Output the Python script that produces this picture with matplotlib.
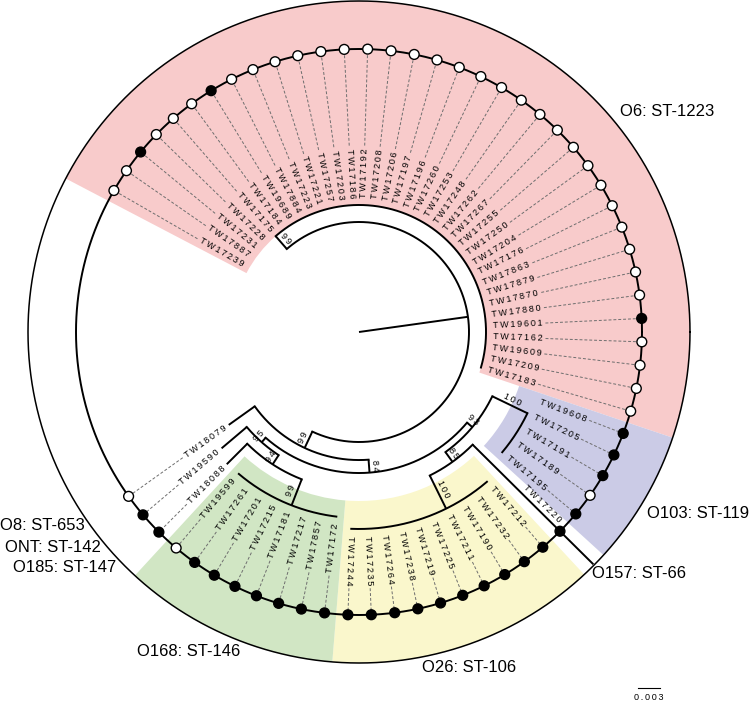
import numpy as np
import matplotlib.pyplot as plt
from matplotlib.patches import Wedge

plt.rcParams['font.family'] = ['Liberation Sans', 'DejaVu Sans']

# ---- data -----------------------------------------------------------------
# tips, clockwise from the upper left
o6_tips = ['TW17239', 'TW17887', 'TW17231', 'TW17228', 'TW17175', 'TW17184', 'TW19689',
           'TW17884', 'TW17223', 'TW17221', 'TW17257', 'TW17203', 'TW17186', 'TW17192',
           'TW17208', 'TW17206', 'TW17197', 'TW17196', 'TW17260', 'TW17253', 'TW17248',
           'TW17262', 'TW17267', 'TW17255', 'TW17250', 'TW17204', 'TW17176', 'TW17863',
           'TW17879', 'TW17870', 'TW17880', 'TW19601', 'TW17162', 'TW19609', 'TW17209',
           'TW17183']
o103_tips = ['TW19608', 'TW17205', 'TW17191', 'TW17189', 'TW17195']
o26_tips = ['TW17212', 'TW17232', 'TW17190', 'TW17211', 'TW17225', 'TW17219', 'TW17238',
            'TW17264', 'TW17235', 'TW17244']
o168_tips = ['TW17172', 'TW17857', 'TW17217', 'TW17181', 'TW17215', 'TW17201', 'TW17261',
             'TW19599']

# backbone: node, parent, distance from centre (subs/site), bootstrap
node_names = ['root', 'O6', 'rest', 'n84', 'n95', 'n94', 'O168', 'n93', 'O103', 'n85', 'O26']
node_parent = [None, 'root', 'root', 'rest', 'n84', 'n95', 'n94', 'n84', 'n93', 'n93', 'n85']
node_depth = [0.0150, 0.01732, 0.01746, 0.01923, 0.02005, 0.02155, 0.02536, 0.02018,
              0.02550, 0.02182, 0.02686]
node_support = [None, 99, 99, 84, 95, 94, 99, 93, 100, 85, 100]

# single tips on the backbone
single_tips = ['TW17220', 'TW18088', 'TW19590', 'TW18079']
single_parent = ['n85', 'n94', 'n95', 'rest']
single_depth = [0.0450, 0.0255, 0.02455, 0.02182]

filled_tips = ['TW17231', 'TW19689', 'TW19601',
               'TW19608', 'TW17205', 'TW17191', 'TW17195', 'TW17220'] + o26_tips + \
              ['TW17172', 'TW17857', 'TW17217', 'TW17181', 'TW17215', 'TW17201', 'TW17261',
               'TW18088', 'TW19590']

clade_tips = {'O6': o6_tips, 'O103': o103_tips, 'O26': o26_tips, 'O168': o168_tips}
clade_fill = {'O6': '#f8cbcb', 'O103': '#cbcbe6', 'O26': '#faf7cc', 'O168': '#d1e6c4'}

serotypes = ['O6: ST-1223', 'O103: ST-119', 'O157: ST-66', 'O26: ST-106', 'O168: ST-146',
             'O8: ST-653', 'ONT: ST-142', 'O185: ST-147']

# ---- layout ---------------------------------------------------------------
PX = 22 / 0.003          # pixels per subs/site (scale bar)
CX, CY = 359, 332        # tree centre, pixels from top left
ring_r, outer_r = 283, 331
node_anchor = {'O6': 'TW17175', 'O103': 'TW17205', 'O26': 'TW17211', 'O168': 'TW17181'}
arc_from_anchor = ['O6', 'O103']
FS_TIP = 6.5

tip_order = o6_tips + o103_tips + ['TW17220'] + o26_tips + o168_tips + \
            ['TW18088', 'TW19590', 'TW18079']
ang = dict(zip(tip_order, np.linspace(150, -144.5, len(tip_order))))
step = abs(ang[tip_order[1]] - ang[tip_order[0]])

parent = dict(zip(node_names, node_parent))
depth = {n: d * PX for n, d in zip(node_names, node_depth)}
children = {n: [] for n in node_names}
for n, p in zip(node_names, node_parent):
    if p:
        children[p].append(n)
for t, p, d in zip(single_tips, single_parent, single_depth):
    children[p].append(t)
    parent[t] = p
    depth[t] = d * PX
for c, tips in clade_tips.items():
    for t in tips:
        children[c].append(t)
        parent[t] = c
        depth[t] = depth[c] + 3


def place(n):
    if n not in children:
        return ang[n]
    a = [place(c) for c in children[n]]
    ang[n] = ang[node_anchor[n]] if n in node_anchor else (max(a) + min(a)) / 2
    return ang[n]


place('root')


def xy(r, a):
    t = np.radians(a)
    return r * np.cos(t), r * np.sin(t)


def upright(a):
    return -94.5 < a < 90.5


def spaced(s):
    return '\u2009'.join(s)


fig = plt.figure(figsize=(7.5, 7.03), dpi=100)
ax = fig.add_axes([0, 0, 1, 1])
ax.set_xlim(-CX, 750 - CX)
ax.set_ylim(-(703 - CY), CY)
ax.axis('off')
renderer = fig.canvas.get_renderer()

LW = 1.4

# highlighted clades
for c, tips in clade_tips.items():
    a = [ang[t] for t in tips]
    r0 = depth[c] if c == 'O6' else 169
    ax.add_patch(Wedge((0, 0), outer_r, min(a) - step / 2, max(a) + step / 2,
                       width=outer_r - r0, facecolor=clade_fill[c], edgecolor='none', zorder=0))

# outer circle and tip ring
t = np.linspace(0, 360, 721)
ax.plot(*xy(outer_r, t), color='black', lw=1.1, zorder=2)
ax.plot(*xy(ring_r, t), color='black', lw=LW, zorder=4)

# branches
for n in node_names:
    pr = depth[parent[n]] if parent[n] else 0
    ax.plot(*xy(np.array([pr, depth[n]]), ang[n]), color='black', lw=LW, zorder=3,
            solid_capstyle='butt')
    ca = [ang[c] for c in children[n]]
    hi = ang[n] if n in arc_from_anchor else max(ca)
    ax.plot(*xy(depth[n], np.linspace(min(ca), hi, 200)), color='black', lw=LW, zorder=3)
    sup = node_support[node_names.index(n)]
    if sup is not None:
        rm = (pr + depth[n]) / 2
        a = ang[n]
        rot = a if upright(a) else a - 180
        ox, oy = -np.sin(np.radians(rot)) * 1.5, np.cos(np.radians(rot)) * 1.5
        x, y = xy(rm, a)
        ax.text(x + ox, y + oy, spaced(str(sup)), fontsize=FS_TIP, rotation=rot,
                rotation_mode='anchor', ha='center', va='bottom', zorder=6)

for t_ in single_tips:
    ax.plot(*xy(np.array([depth[parent[t_]], depth[t_]]), ang[t_]), color='black', lw=LW,
            zorder=3, solid_capstyle='butt')

# tip labels and leader lines
for t_ in tip_order:
    a = ang[t_]
    label = spaced(t_)
    tmp = ax.text(0, 0, label, fontsize=FS_TIP)
    w = tmp.get_window_extent(renderer).width
    tmp.remove()
    r0 = depth[t_] + 4
    va = 'center'
    if depth[t_] > ring_r:
        r0 = ring_r - 57
        va = 'bottom'
    rot = a if upright(a) else a - 180
    x, y = xy(r0, a)
    if va == 'bottom':
        x -= np.sin(np.radians(rot)) * 2.5
        y += np.cos(np.radians(rot)) * 2.5
    ax.text(x, y, label, fontsize=FS_TIP, rotation=rot, rotation_mode='anchor',
            ha='left' if upright(a) else 'right', va=va, zorder=6)
    if depth[t_] < ring_r:
        ax.plot(*xy(np.array([r0 + w + 3, ring_r]), a), color='#6e6e6e', lw=0.7,
                ls=(0, (3, 2)), zorder=1)

# tip symbols on the ring
px, py = xy(ring_r, np.array([ang[t_] for t_ in tip_order]))
ax.scatter(px, py, s=50, linewidths=1.0, edgecolors='black', zorder=5,
           facecolors=['black' if t_ in filled_tips else 'white' for t_ in tip_order])

# serotype / ST labels
label_pos = [(620, 111), (647, 513), (592, 574), (422, 667), (137, 652),
             (0, 525), (5, 547), (13, 568)]
for s, (lx, ly) in zip(serotypes, label_pos):
    ax.text(lx - CX, CY - ly, s, fontsize=12, ha='left', va='center')

# scale bar
sb = 0.003
ax.plot([638 - CX, 638 - CX + sb * PX], [CY - 688, CY - 688], color='black', lw=0.8)
ax.text(638 - CX + sb * PX / 2, CY - 698, spaced('0.003'), fontsize=6.5, ha='center',
        va='center')

fig.savefig('out.png', dpi=100)
